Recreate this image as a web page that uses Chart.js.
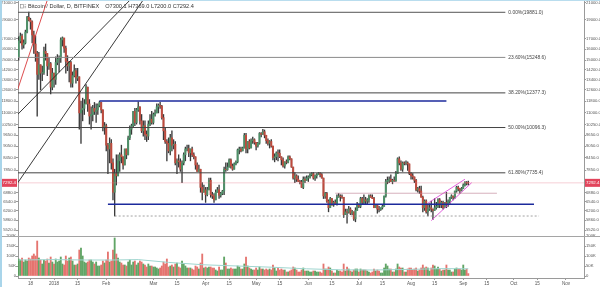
<!DOCTYPE html>
<html>
<head>
<meta charset="utf-8" />
<title>Bitcoin / Dollar, D, BITFINEX</title>
<script src="https://cdn.jsdelivr.net/npm/chart.js@4.4.0/dist/chart.umd.min.js"></script>
<style>
  body { margin: 0; background: #fff; }
  #wrap { position: relative; width: 600px; height: 287px; overflow: hidden; }
  canvas { position: absolute; left: 0; }
  #price { top: 0; }
  #vol { top: 228px; }
  #frame { position: absolute; left: 0; top: 0; width: 600px; height: 287px; box-sizing: border-box;
           border-left: 2px solid #a9d5ea; border-top: 1px solid #b9ddee; pointer-events: none; }
</style>
</head>
<body>
<div id="wrap">
  <canvas id="price" width="600" height="236"></canvas>
  <canvas id="vol" width="600" height="59"></canvas>
  <div id="frame"></div>
</div>
<script>
// daily candles, first one on startDate
var startDate = '2017-12-11';
var open = [
  15300,16800,17300,16400,16600,17700,19300,19000,18800,17400,16500,15600,13800,14600,13900,13950,15800,15600,14500,14700,12800,
  13900,13400,14800,15100,15200,16900,17100,16100,14900,14500,14800,13100,13700,14100,13500,13600,11000,11200,11300,11600,12800,11600,10800,10900,11300,11100,11200,11500,11700,11200,10100,
  10200,9100,8900,9200,8200,6900,7700,7600,8300,8600,8500,8100,8900,8600,9500,10000,10200,11100,10400,11200,11400,10500,9900,10200,9700,9600,10300,10600,
  10400,10900,11000,11400,11500,11450,10700,9900,9300,9200,8800,9500,9100,9150,8200,8300,8250,7900,8200,8600,8900,8920,8700,8900,8600,8500,8100,7800,7900,7100,6900,
  7000,6800,7000,7400,6800,6750,6600,6900,7000,6780,6850,6950,7900,7880,8000,8350,8050,7900,8150,8250,8850,8900,8800,8950,9650,8900,9300,8950,9350,9400,
  9250,9050,9200,9750,9700,9850,9650,9350,9200,9300,9050,8450,8500,8700,8680,8500,8350,8050,8250,8230,8500,8400,8000,7500,7600,7450,7350,7330,7100,7450,7400,
  7500,7550,7650,7700,7500,7600,7650,7700,7650,7500,6750,6850,6550,6300,6650,6400,6500,6450,6700,6750,6720,6700,6050,6150,6130,6250,6100,6150,5900,6200,
  6400,6350,6650,6500,6600,6550,6600,6750,6700,6650,6300,6400,6250,6230,6300,6350,6750,7350,7400,7450,7350,7400,7380,7700,8400,8200,7900,8200,8180,8200,8150,
  7700,7600,7550,7400,7000,7050,6950,6700,6300,6550,6150,6250,6300,6250,6200,6300,6350,6600,6400,6500,6300,6500,6400,6550,6700,6750,6700,6950,7100,7050,6980,
  7050,7200,7300,7300.1
];
var high = [
  17200,17600,17500,16900,17900,19400,19891,19200,18900,17800,17300,15800,15700,14600,14500,16200,16500,15600,15200,14800,14300,
  13900,15300,15500,15400,17100,17200,17000,16300,15400,14900,14900,14000,14600,14300,14300,13600,11800,12000,11900,13000,12800,11900,11400,11500,11700,11600,11600,11790,11700,11200,10400,
  10300,9200,9500,9400,8400,7900,8600,8600,8700,9100,8500,8900,8900,9600,10200,10300,11100,11300,11300,11750,11400,10900,10500,10500,9900,10500,10900,11100,
  11000,11200,11600,11600,11700,11500,10900,10100,9400,9500,9700,9900,9400,9300,8400,8600,8400,8300,8700,9000,9100,9100,8900,9000,8700,8500,8200,8100,7900,7300,7200,
  7100,7100,7500,7500,6900,6850,7000,7100,7200,6900,6980,8000,8200,8200,8400,8400,8150,8200,8300,8900,9000,9000,9000,9750,9750,9300,9400,9450,9550,9450,
  9250,9250,9800,9800,9990,9950,9650,9450,9350,9400,9050,8650,8750,8850,8850,8500,8450,8250,8350,8550,8550,8400,8000,7750,7650,7600,7400,7400,7550,7550,7600,
  7600,7700,7750,7750,7650,7700,7750,7750,7700,7500,6900,6900,6600,6700,6650,6550,6600,6800,6850,6800,6800,6700,6250,6250,6350,6300,6200,6150,6300,6500,
  6450,6700,6700,6800,6700,6650,6800,6800,6800,6700,6400,6400,6350,6300,6400,6750,7450,7550,7550,7650,7450,7550,7800,8450,8500,8300,8250,8250,8300,8250,8150,
  7750,7700,7550,7450,7100,7150,7150,6750,6600,6600,6450,6450,6550,6250,6650,6500,6650,6650,6550,6550,6500,6900,6600,6700,6800,6750,6950,7150,7150,7050,7100,
  7250,7350,7350,7369
];
var low = [
  15000,16600,16000,16100,16500,17600,18900,18000,16600,15600,14900,10800,13400,12600,13300,13800,15000,13700,14200,12300,12600,
  12800,13000,14600,14000,14800,16300,15700,13900,14100,13200,12800,12800,13600,13100,13300,10000,9200,10500,10900,11600,11100,10300,10000,10500,10900,10400,10900,11400,11000,9900,9700,
  8800,7700,8200,7900,6600,6000,7200,7600,7800,8200,7900,8100,8400,8600,9400,9700,10100,10200,10300,11100,10300,9800,9600,9400,9300,9400,10200,10300,
  10300,10800,11000,11000,11300,10600,9400,9200,8300,8700,8600,8800,8900,8100,7700,8000,7800,7300,8100,8300,8800,8500,8300,8500,8400,7900,7800,7800,6900,6600,6900,
  6500,6750,7000,6700,6650,6500,6600,6900,6650,6700,6800,6800,7800,7850,8000,7950,7850,7900,8100,8200,8650,8750,8800,8950,8700,8700,8900,8950,9200,9150,
  8850,9000,9150,9550,9700,9500,9200,9100,8950,9000,8350,8250,8350,8300,8450,8100,8000,7950,8150,8200,8350,7990,7450,7300,7350,7350,7250,7100,7050,7300,7400,
  7350,7500,7600,7450,7400,7500,7650,7550,7500,6650,6650,6500,6150,6300,6400,6350,6450,6400,6700,6550,6650,5950,6050,5750,6100,6050,6050,5850,5800,6200,
  6300,6300,6450,6450,6450,6450,6500,6700,6650,6300,6300,6100,6150,6200,6250,6350,6700,7250,7300,7350,7250,7350,7350,7700,8100,7850,7800,8100,8100,7850,7650,
  7450,7450,7300,6950,6900,6850,6700,6150,6200,6100,6000,6200,6150,5880,6200,6250,6300,6300,6300,6250,6300,6300,6350,6450,6650,6600,6650,6900,6950,6850,6950,
  7050,7150,7200,7200
];
var close = [
  16800,17300,16400,16600,17700,19300,19000,18800,17400,16500,15600,13800,14600,13900,13950,15800,15600,14500,14700,12800,13900,
  13400,14800,15100,15200,16900,17100,16100,14900,14500,14800,13100,13700,14100,13500,13600,11000,11200,11300,11600,12800,11600,10800,10900,11300,11100,11200,11500,11700,11200,10100,10200,
  9100,8900,9200,8200,6900,7700,7600,8300,8600,8500,8100,8900,8600,9500,10000,10200,11100,10400,11200,11400,10500,9900,10200,9700,9600,10300,10600,10400,
  10900,11000,11400,11500,11450,10700,9900,9300,9200,8800,9500,9100,9150,8200,8300,8250,7900,8200,8600,8900,8920,8700,8900,8600,8500,8100,7800,7900,7100,6900,7000,
  6800,7000,7400,6800,6750,6600,6900,7000,6780,6850,6950,7900,7880,8000,8350,8050,7900,8150,8250,8850,8900,8800,8950,9650,8900,9300,8950,9350,9400,9250,
  9050,9200,9750,9700,9850,9650,9350,9200,9300,9050,8450,8500,8700,8680,8500,8350,8050,8250,8230,8500,8400,8000,7500,7600,7450,7350,7330,7100,7450,7400,7500,
  7550,7650,7700,7500,7600,7650,7700,7650,7500,6750,6850,6550,6300,6650,6400,6500,6450,6700,6750,6720,6700,6050,6150,6130,6250,6100,6150,5900,6200,6400,
  6350,6650,6500,6600,6550,6600,6750,6700,6650,6300,6400,6250,6230,6300,6350,6750,7350,7400,7450,7350,7400,7380,7700,8400,8200,7900,8200,8180,8200,8150,7700,
  7600,7550,7400,7000,7050,6950,6700,6300,6550,6150,6250,6300,6250,6200,6300,6350,6600,6400,6500,6300,6500,6400,6550,6700,6750,6700,6950,7100,7050,6980,7050,
  7200,7300,7280,7292.4
];
// volume in thousands of BTC
var volumeK = [
  85,80,90,70,80,75,90,85,100,110,100,175,90,80,60,80,75,85,65,95,70,
  60,85,70,75,95,60,55,100,75,90,95,75,55,55,60,130,140,100,70,65,70,80,80,70,60,70,50,50,55,75,65,
  80,120,70,75,130,190,110,90,70,65,55,55,50,70,80,55,70,75,55,65,75,70,60,55,45,60,50,50,
  45,45,40,35,40,50,70,60,85,45,50,55,45,60,65,45,40,75,60,50,40,40,40,35,30,50,45,35,65,110,40,
  45,40,45,45,40,40,30,25,45,30,30,95,65,35,35,40,35,35,35,50,45,35,35,60,95,50,40,35,30,30,
  40,30,45,35,35,30,35,30,35,30,55,40,25,40,30,35,30,30,20,20,25,30,45,40,30,20,20,30,40,25,25,
  25,20,20,25,25,20,20,20,15,60,35,35,45,40,25,15,15,30,25,25,20,60,25,45,35,25,20,30,35,35,
  20,35,30,30,30,25,20,15,20,35,25,30,25,15,15,40,60,50,35,35,20,20,35,60,45,40,40,20,20,35,40,
  40,30,35,40,25,30,40,55,40,45,40,25,40,55,50,35,45,35,25,30,30,55,30,30,20,20,35,40,35,35,30,
  55,30,35,12
];
// volume moving average, read at a few dates
var maDates = ['2017-12-11','2018-01-01','2018-01-20','2018-02-05','2018-02-20','2018-03-10','2018-03-31','2018-04-20','2018-05-10','2018-05-31','2018-06-20','2018-07-10','2018-07-31','2018-08-20','2018-09-04'];
var maValues = [80, 82, 80, 80, 82, 68, 56, 50, 44, 36, 31, 30, 33, 37, 36];

var xTickDates = ['2017-12-18','2018-01-01','2018-01-15','2018-02-01','2018-03-01','2018-03-15','2018-04-01','2018-04-15','2018-05-01','2018-05-15','2018-06-01','2018-06-15','2018-07-01','2018-07-15','2018-08-01','2018-08-15','2018-09-01','2018-09-15','2018-10-01','2018-10-15','2018-11-01'];
var xTickLabels = ['18','2018','15','Feb','Mar','15','Apr','15','May','15','Jun','15','Jul','15','Aug','15','Sep','15','Oct','15','Nov'];
var priceTicks = [21000,19000,17000,16000,15000,14200,13400,12600,11800,11000,10250,9650,9050,8450,7850,6880,6540,6200,5860,5520];
var volTicks = [0, 50, 100, 150, 200];

// drawings
var fibPct = [0, 23.6, 38.2, 50, 61.8];
var fibPrice = [19881.0, 15248.6, 12377.3, 10096.3, 7735.4];
var fibColor = ['#555', '#8a8a8a', '#444', '#444', '#444'];
var fibFrom = '2017-12-01', fibTo = '2018-09-26';
var blueLines = [[11795, '2018-01-28', '2018-08-22'], [6430, '2018-02-02', '2018-10-13']];
var dashLine = [6000, '2018-02-06', '2018-10-16'];
var pinkLine = [6860, '2018-06-17', '2018-09-21'];
var blackTrends = [[['2017-12-06', 10430], ['2018-02-21', 22668]], [['2017-12-06', 6840], ['2018-02-27', 22668]]];
var redTrend = [['2017-12-06', 11071], ['2017-12-30', 22668]];
var wedge = [[['2018-08-11', 6470], ['2018-09-02', 7450]], [['2018-08-13', 5840], ['2018-09-06', 7300]]];

var xMin = -21.4, xMax = 314.7;
var pMin = 5335, pMax = 21370;

function day(s) { return Math.round((Date.parse(s) - Date.parse('2018-01-01')) / 864e5); }
var x0 = day(startDate);

Chart.defaults.font.family = "'Liberation Sans', Arial, sans-serif";
var tickFont = { family: "'Liberation Sans', Arial, sans-serif", size: 4.2 };

function sideAxis(pos, w, extra) {
  var ax = {
    position: pos,
    afterFit: function (s) { s.width = w; s.paddingTop = 0; s.paddingBottom = 0; },
    grid: { drawOnChartArea: false, tickLength: 2, color: '#9a9a9a' },
    border: { color: '#9a9a9a' }
  };
  for (var k in extra) ax[k] = extra[k];
  return ax;
}

var up = close.map(function (c, i) { return c >= open[i]; });

function seg(pts, color, width, dash) {
  return {
    type: 'line', yAxisID: 'y', order: 0,
    data: pts.map(function (p) { return { x: day(p[0]), y: p[1] }; }),
    borderColor: color, borderWidth: width, borderDash: dash || [],
    pointRadius: 0, fill: false, tension: 0
  };
}

var lineSets = [];
fibPrice.forEach(function (p, i) { lineSets.push(seg([[fibFrom, p], [fibTo, p]], fibColor[i], 1)); });
blueLines.forEach(function (b) { lineSets.push(seg([[b[1], b[0]], [b[2], b[0]]], '#1c2a9c', 1.4)); });
lineSets.push(seg([[dashLine[1], dashLine[0]], [dashLine[2], dashLine[0]]], '#8a8a8a', 0.8, [2, 2]));
lineSets.push(seg([[pinkLine[1], pinkLine[0]], [pinkLine[2], pinkLine[0]]], 'rgba(190,130,150,0.8)', 0.8));
lineSets.push(seg([['2017-11-20', close[close.length - 1]], ['2018-12-01', close[close.length - 1]]], 'rgba(230,120,140,0.45)', 0.8));
blackTrends.forEach(function (t) { lineSets.push(seg(t, '#222', 0.9)); });
lineSets.push(seg(redTrend, '#d9383a', 0.9));
wedge.forEach(function (t) { lineSets.push(seg(t, '#df4fd9', 0.9)); });

var wicks = {
  type: 'bar', order: 2, grouped: false, barThickness: 0.7,
  data: close.map(function (c, i) { return { x: x0 + i, y: [low[i], high[i]] }; }),
  backgroundColor: '#3b3b3b'
};
var bodies = {
  type: 'bar', order: 1, grouped: false, barThickness: 1.35,
  data: close.map(function (c, i) { return { x: x0 + i, y: [open[i], c] }; }),
  backgroundColor: up.map(function (u) { return u ? '#4d9068' : '#bf4a3d'; })
};

var priceOverlay = {
  id: 'priceOverlay',
  afterDraw: function (chart) {
    var ctx = chart.ctx, a = chart.chartArea, xs = chart.scales.x, ys = chart.scales.y;
    ctx.save();
    ctx.textBaseline = 'middle';
    // fib labels
    ctx.font = "4.9px 'Liberation Sans'";
    ctx.fillStyle = '#444';
    ctx.textAlign = 'left';
    var fx = xs.getPixelForValue(day(fibTo)) + 3;
    fibPct.forEach(function (p, i) {
      ctx.fillText(p.toFixed(2) + '%(' + fibPrice[i].toFixed(1) + ')', fx, ys.getPixelForValue(fibPrice[i]));
    });
    // last price boxes on both axes
    var last = close[close.length - 1];
    var py = ys.getPixelForValue(last);
    ctx.fillStyle = '#e2455c';
    ctx.fillRect(a.right + 1, py - 4, chart.width - a.right - 1, 8);
    ctx.fillRect(1, py - 4, a.left - 2, 8);
    ctx.fillStyle = '#fff';
    ctx.font = "4.4px 'Liberation Sans'";
    ctx.fillText(last.toFixed(1), a.right + 2, py);
    ctx.textAlign = 'right';
    ctx.fillText(last.toFixed(1), a.left - 2, py);
    // header
    ctx.textAlign = 'left';
    ctx.strokeStyle = '#888'; ctx.lineWidth = 0.6;
    ctx.strokeRect(20.5, 4.5, 3, 3.5);
    ctx.fillStyle = '#888';
    ctx.fillRect(24.5, 4.5, 1.6, 0.6); ctx.fillRect(24.5, 6, 1.6, 0.6); ctx.fillRect(24.5, 7.5, 1.6, 0.6);
    ctx.font = "5.6px 'Liberation Sans'";
    ctx.fillStyle = '#333';
    var title = 'Bitcoin / Dollar, D, BITFINEX';
    ctx.fillText(title, 28, 6.5);
    var tx = 28 + ctx.measureText(title).width + 6;
    var n = close.length - 1;
    var parts = ['O' + open[n].toFixed(1), 'H' + high[n].toFixed(1), 'L' + low[n].toFixed(1), 'C' + close[n].toFixed(1)];
    parts.forEach(function (s) { ctx.fillText(s, tx, 6.5); tx += ctx.measureText(s + ' ').width; });
    ctx.restore();
  }
};

new Chart(document.getElementById('price'), {
  type: 'bar',
  data: { datasets: lineSets.concat([bodies, wicks]) },
  options: {
    responsive: false, animation: false, devicePixelRatio: 1,
    layout: { padding: 0 },
    plugins: { legend: { display: false }, tooltip: { enabled: false } },
    scales: {
      x: { type: 'linear', min: xMin, max: xMax, offset: false, display: false, grid: { offset: false } },
      y: sideAxis('right', 16, {
        type: 'logarithmic', min: pMin, max: pMax, beginAtZero: false,
        afterBuildTicks: function (s) { s.ticks = priceTicks.map(function (v) { return { value: v }; }); },
        ticks: { font: tickFont, color: '#555', padding: 0, autoSkip: false, callback: function (v) { return v.toFixed(1); } }
      }),
      yL: sideAxis('left', 18, {
        type: 'logarithmic', min: pMin, max: pMax, beginAtZero: false,
        afterBuildTicks: function (s) { s.ticks = priceTicks.map(function (v) { return { value: v }; }); },
        ticks: { font: tickFont, color: '#555', padding: 0, autoSkip: false, callback: function (v) { return v.toFixed(1); } }
      })
    }
  },
  plugins: [priceOverlay]
});

var volOverlay = {
  id: 'volOverlay',
  afterDraw: function (chart) {
    var ctx = chart.ctx, a = chart.chartArea;
    ctx.save();
    ctx.strokeStyle = '#a5a5a5'; ctx.lineWidth = 1;
    ctx.beginPath(); ctx.moveTo(0, a.top + 0.5); ctx.lineTo(chart.width, a.top + 0.5); ctx.stroke();
    ctx.restore();
  }
};

new Chart(document.getElementById('vol'), {
  type: 'bar',
  data: {
    datasets: [
      {
        type: 'line', order: 0, yAxisID: 'y',
        data: maDates.map(function (d, i) { return { x: day(d), y: maValues[i] }; }),
        borderColor: '#9fd5cf', borderWidth: 1, pointRadius: 0, fill: false, tension: 0
      },
      {
        type: 'bar', order: 1, grouped: false, barThickness: 1.2, yAxisID: 'y',
        data: volumeK.map(function (v, i) { return { x: x0 + i, y: v }; }),
        backgroundColor: up.map(function (u) { return u ? 'rgba(80,155,85,0.9)' : 'rgba(226,102,96,0.9)'; })
      }
    ]
  },
  options: {
    responsive: false, animation: false, devicePixelRatio: 1,
    layout: { padding: { top: 8 } },
    plugins: { legend: { display: false }, tooltip: { enabled: false } },
    scales: {
      x: {
        type: 'linear', min: xMin, max: xMax, offset: false,
        afterBuildTicks: function (s) { s.ticks = xTickDates.map(function (d) { return { value: day(d) }; }); },
        afterFit: function (s) { s.height = 9; s.paddingLeft = 0; s.paddingRight = 0; },
        ticks: { font: { family: "'Liberation Sans', Arial, sans-serif", size: 4.6 }, color: '#555', padding: 1, autoSkip: false, maxRotation: 0,
                 callback: function (v, i) { return xTickLabels[i]; } },
        grid: { drawOnChartArea: false, tickLength: 2, color: '#9a9a9a', offset: false },
        border: { color: '#9a9a9a' }
      },
      y: sideAxis('right', 16, {
        min: -10, max: 200,
        afterBuildTicks: function (s) { s.ticks = volTicks.map(function (v) { return { value: v }; }); },
        ticks: { font: tickFont, color: '#555', padding: 0, autoSkip: false, callback: function (v) { return v ? v + 'K' : '0'; } }
      }),
      yL: sideAxis('left', 18, {
        min: -10, max: 200,
        afterBuildTicks: function (s) { s.ticks = volTicks.map(function (v) { return { value: v }; }); },
        ticks: { font: tickFont, color: '#555', padding: 0, autoSkip: false, callback: function (v) { return v ? v + 'K' : '0'; } }
      })
    }
  },
  plugins: [volOverlay]
});
</script>
</body>
</html>
